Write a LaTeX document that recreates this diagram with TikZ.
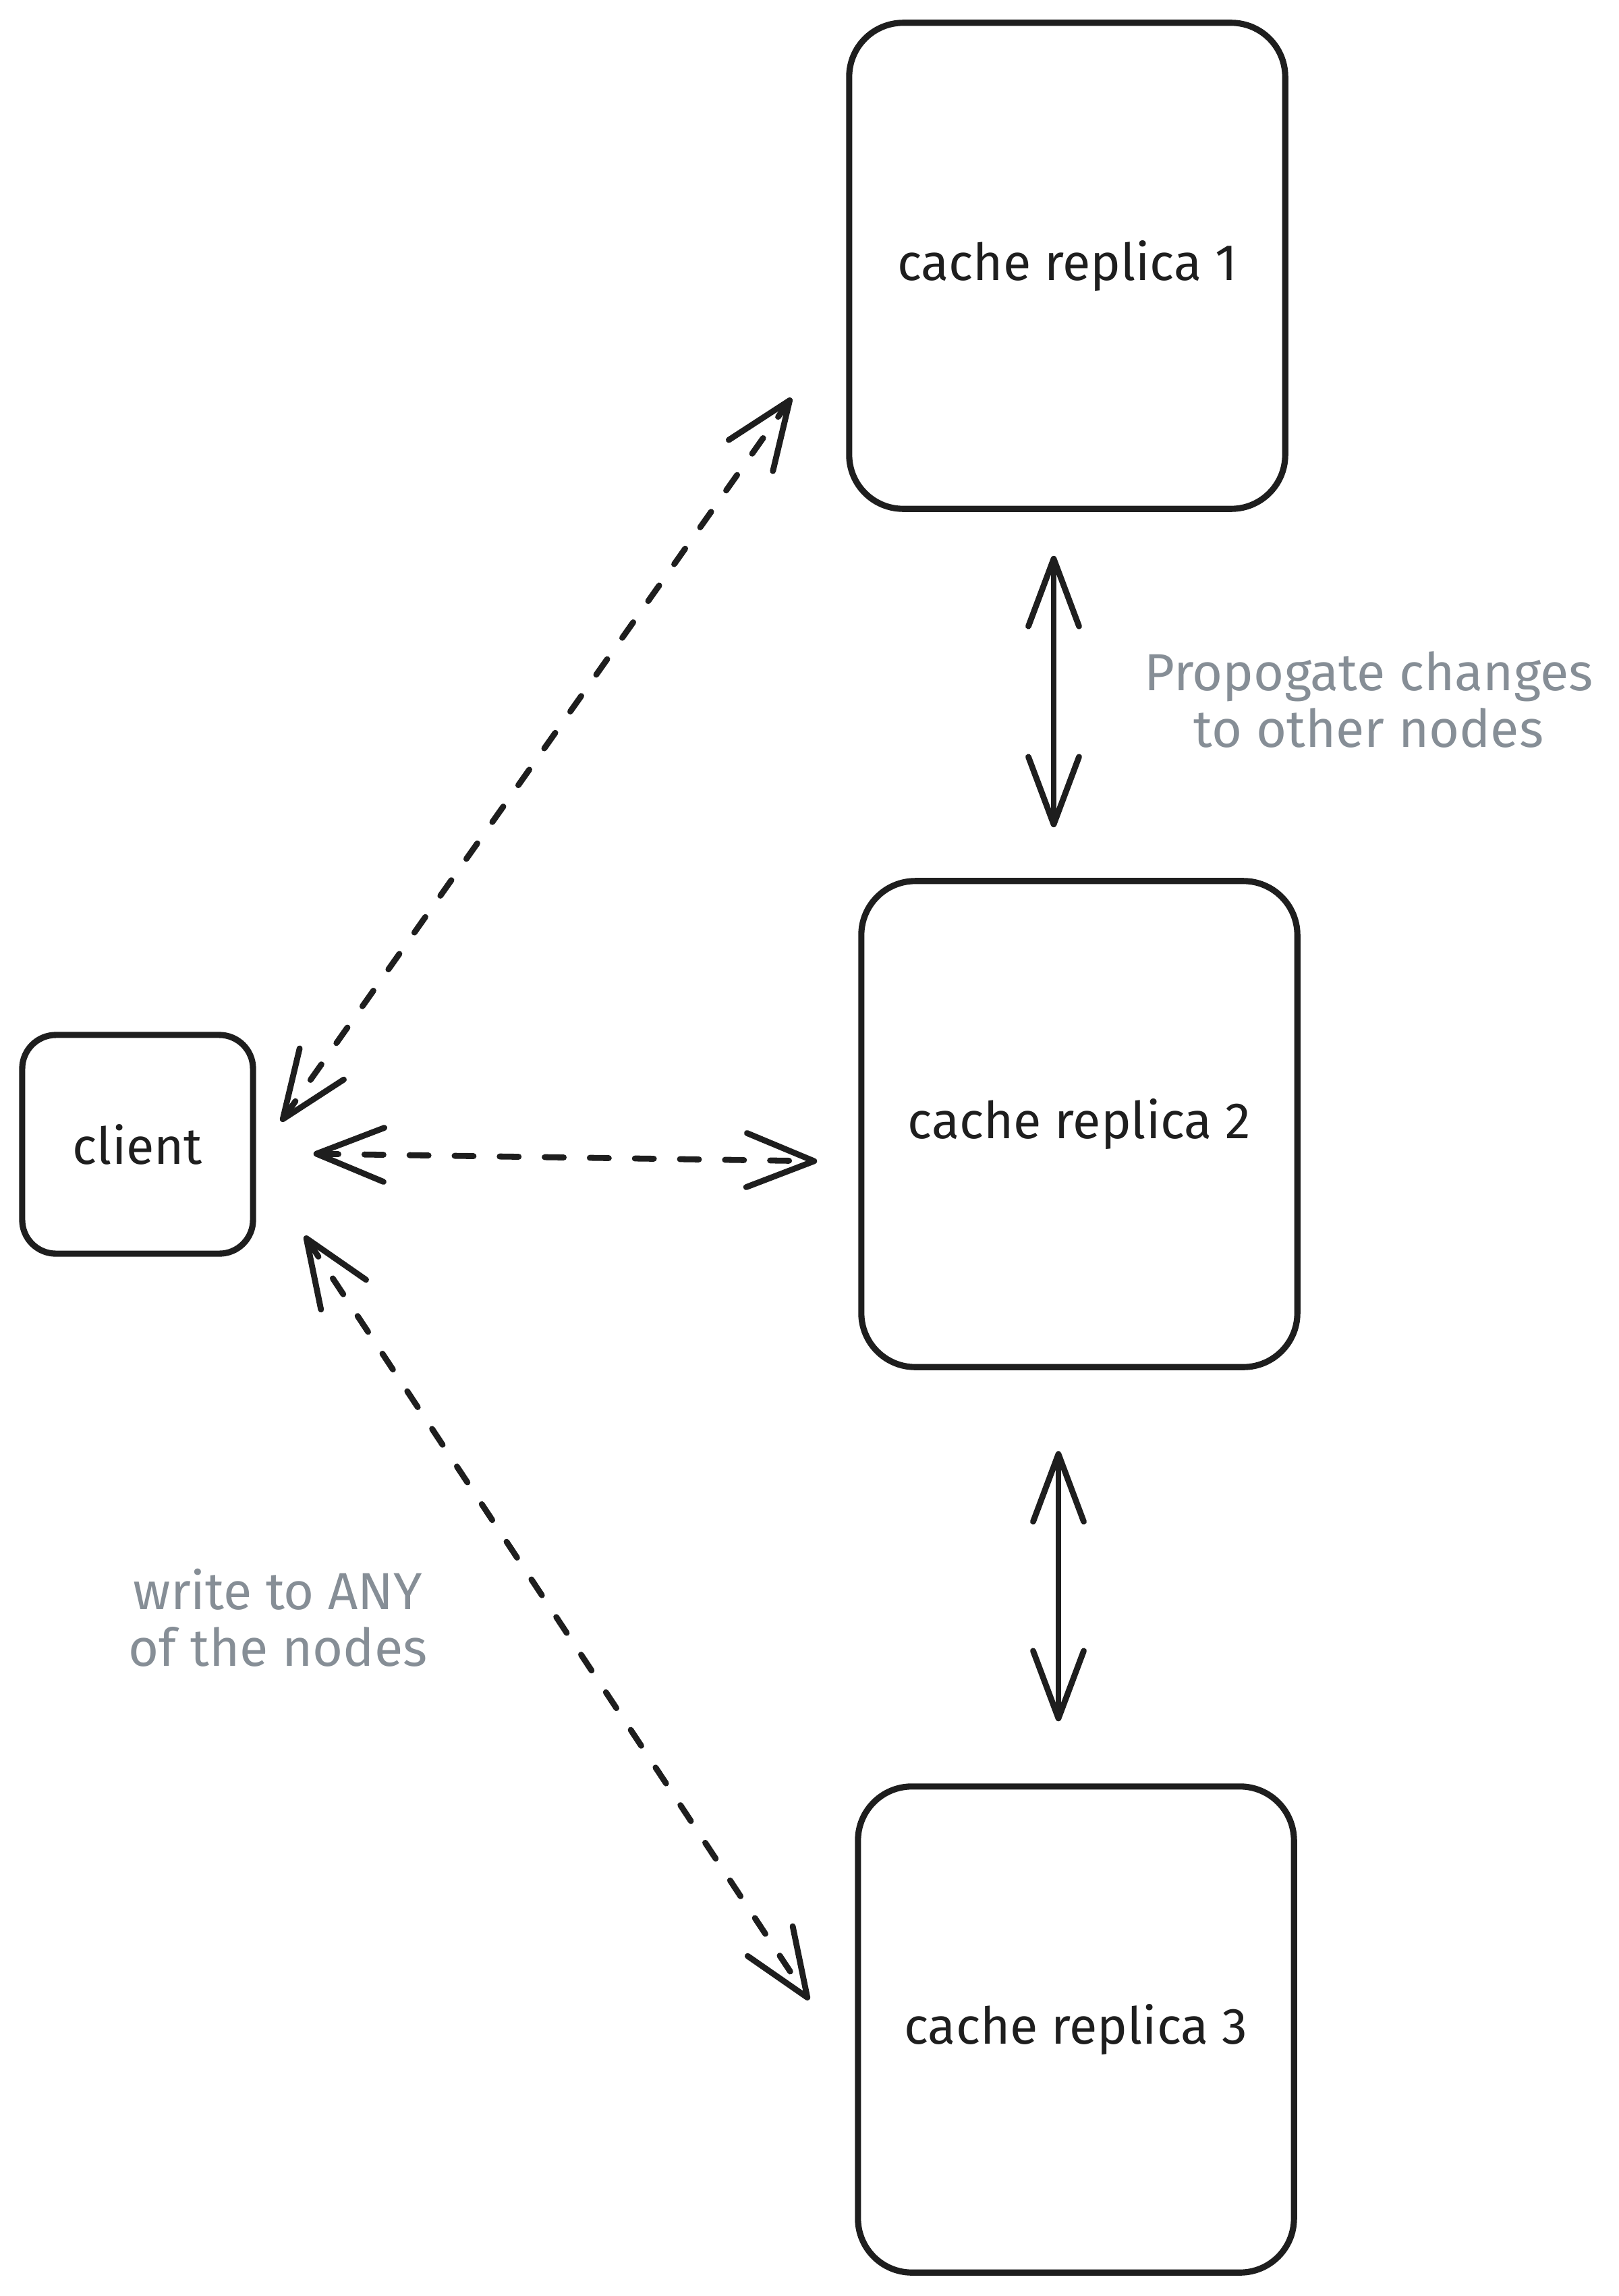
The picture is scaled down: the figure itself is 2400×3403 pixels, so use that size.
\documentclass[tikz,border=0pt]{standalone}
\usepackage{fontspec}
\setmainfont{Fira Sans}
\usepackage{tikz}
\usetikzlibrary{positioning,arrows.meta,calc}
\definecolor{ink}{HTML}{1E1E1E}
\definecolor{notegray}{HTML}{868E96}
\tikzset{%
  replica/.style={%
    rectangle, draw=ink, line width=2.6pt, rounded corners=0.8cm, fill=white,
    minimum width=6.46cm, minimum height=7.2cm, inner sep=0pt,
    text=ink, font=\fontsize{21.5}{24}\selectfont
  },
  clientbox/.style={%
    rectangle, draw=ink, line width=2.6pt, rounded corners=0.5cm, fill=white,
    minimum width=3.42cm, minimum height=3.24cm, inner sep=0pt,
    text=ink, font=\fontsize{21.5}{24}\selectfont
  },
  dasharrow/.style={%
    draw=ink, line width=2.5pt, line cap=round, dash pattern=on 8pt off 11pt,
    {Straight Barb[length=1cm,width=0.8cm,round]}-{Straight Barb[length=1cm,width=0.8cm,round]}
  },
  syncarrow/.style={%
    draw=ink, line width=2.5pt, line cap=round,
    {Straight Barb[length=1cm,width=0.75cm,round]}-{Straight Barb[length=1cm,width=0.75cm,round]}
  },
  note/.style={%
    text=notegray, align=center, font=\fontsize{22}{24}\selectfont
  },
}
\begin{document}
\begin{tikzpicture}[x=0.01cm,y=-0.01cm]
    \useasboundingbox (0,0) rectangle (2400,3403);

    % boxes
    \node[clientbox] (client) at (204,1696)  {client};
    \node[replica]   (rep1)   at (1582,394)  {cache replica 1};
    \node[replica]   (rep2)   at (1600,1666) {cache replica 2};
    \node[replica]   (rep3)   at (1595,3008) {cache replica 3};

    % notes
    \node[note] (propnote)  at (2029,1037) {Propogate changes\\to other nodes};
    \node[note] (writenote) at (412,2398)  {write to ANY\\of the nodes};

    % client to replicas
    \draw[dasharrow] ($(client.north east)+(37,133)$) -- ($(rep1.south west)+(-81,-169)$);
    \draw[dasharrow] ($(client.east)+(85,14)$)        -- ($(rep2.west)+(-61,55)$);
    \draw[dasharrow] ($(client.south east)+(72,-31)$) -- ($(rep3.north west)+(-68,321)$);

    % replica to replica
    \draw[syncarrow] ($(rep1.south)+(-20,65)$)  -- ($(rep2.north)+(-38,-75)$);
    \draw[syncarrow] ($(rep2.south)+(-31,120)$) -- ($(rep3.north)+(-26,-92)$);
\end{tikzpicture}
\end{document}
